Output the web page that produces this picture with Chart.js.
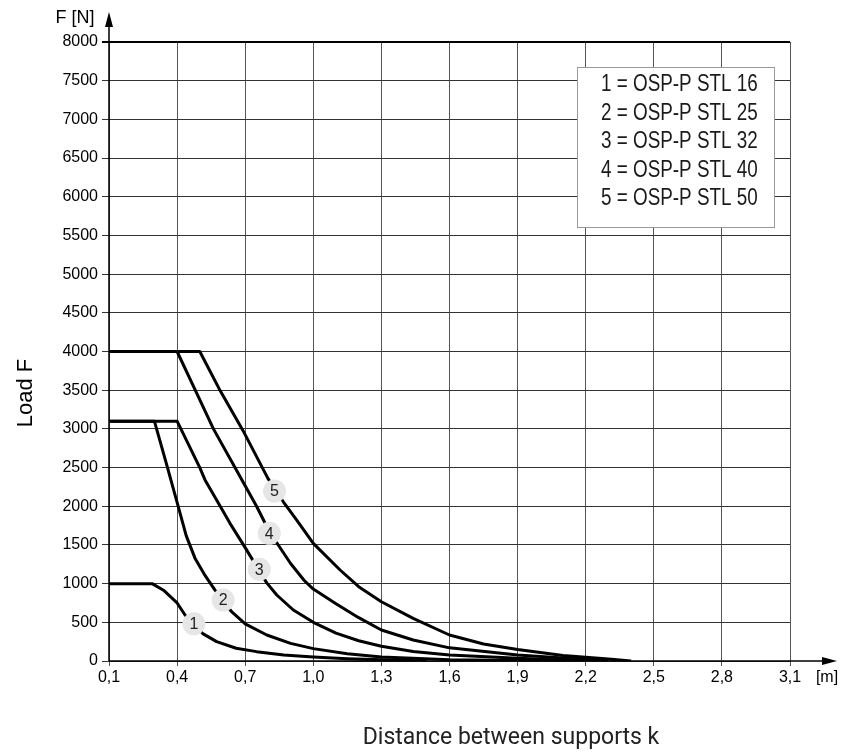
<!DOCTYPE html>
<html>
<head>
<meta charset="utf-8">
<script src="https://cdn.jsdelivr.net/npm/chart.js@4.4.0/dist/chart.umd.min.js"></script>
<style>
  body { margin: 0; background: #fff; }
  #wrap { width: 843px; height: 755px; }
</style>
</head>
<body>
<div id="wrap"><canvas id="chart" width="843" height="755"></canvas></div>
<script>
// tick labels of the distance axis [m]
const xTicks = [0.1, 0.4, 0.7, 1.0, 1.3, 1.6, 1.9, 2.2, 2.5, 2.8, 3.1];

// curve 1 = OSP-P STL 16
const dist1 = [0.1, 0.29, 0.34, 0.4, 0.435, 0.474, 0.515, 0.574, 0.66, 0.75, 0.87, 1.0, 1.15, 1.3, 1.5];
const load1 = [1000, 1000, 915, 750, 594, 478, 350, 250, 165, 121, 78, 52, 30, 15, 0];
// curve 2 = OSP-P STL 25
const dist2 = [0.1, 0.3, 0.35, 0.4, 0.44, 0.48, 0.52, 0.567, 0.6, 0.64, 0.7, 0.795, 0.9, 1.0, 1.15, 1.3, 1.6, 1.9, 2.1];
const load2 = [3100, 3100, 2580, 2050, 1620, 1320, 1120, 917, 790, 637, 480, 336, 228, 160, 95, 52, 17, 5, 0];
// curve 3 = OSP-P STL 32
const dist3 = [0.1, 0.4, 0.5, 0.523, 0.574, 0.633, 0.702, 0.73, 0.795, 0.839, 0.912, 1.0, 1.1, 1.2, 1.3, 1.44, 1.6, 1.9, 2.2];
const load3 = [3100, 3100, 2500, 2340, 2080, 1779, 1455, 1320, 1010, 853, 659, 500, 360, 262, 190, 122, 78, 35, 0];
// curve 4 = OSP-P STL 40
const dist4 = [0.1, 0.4, 0.48, 0.56, 0.655, 0.75, 0.805, 0.85, 0.9, 0.96, 1.0, 1.1, 1.2, 1.3, 1.44, 1.6, 1.9, 2.1, 2.3];
const load4 = [4000, 4000, 3500, 3000, 2500, 2000, 1680, 1480, 1260, 1040, 930, 740, 560, 400, 272, 170, 78, 40, 0];
// curve 5 = OSP-P STL 50
const dist5 = [0.1, 0.5, 0.585, 0.69, 0.8, 0.868, 0.927, 1.0, 1.118, 1.2, 1.3, 1.44, 1.6, 1.75, 1.9, 2.0, 2.1, 2.2, 2.3, 2.4];
const load5 = [4000, 4000, 3520, 2980, 2360, 2058, 1822, 1520, 1176, 960, 766, 551, 336, 220, 150, 110, 72, 50, 25, 0];

// numbered markers on the curves
const markerText = ['1', '2', '3', '4', '5'];
const markerDist = [0.474, 0.603, 0.762, 0.806, 0.829];
const markerLoad = [480, 788, 1185, 1650, 2196];

const legendLabels = [
  '1 = OSP-P STL 16',
  '2 = OSP-P STL 25',
  '3 = OSP-P STL 32',
  '4 = OSP-P STL 40',
  '5 = OSP-P STL 50'
];

const sans = "'Liberation Sans', Arial, sans-serif";

function toPoints(xs, ys) {
  var pts = [];
  for (var i = 0; i < xs.length; i++) {
    pts.push({ x: xs[i], y: ys[i] });
  }
  return pts;
}

function curve(label, xs, ys) {
  return {
    label: label,
    data: toPoints(xs, ys),
    showLine: true,
    borderColor: '#000',
    borderWidth: 3,
    pointRadius: 0,
    tension: 0,
    borderJoinStyle: 'round'
  };
}

// axis arrows, axis titles, markers and the legend box
const decorations = {
  id: 'decorations',
  afterDatasetsDraw(chart) {
    const ctx = chart.ctx;
    const xs = chart.scales.x;
    const ys = chart.scales.y;
    const area = chart.chartArea;

    ctx.save();
    // markers
    for (var i = 0; i < markerText.length; i++) {
      var px = xs.getPixelForValue(markerDist[i]);
      var py = ys.getPixelForValue(markerLoad[i]);
      ctx.beginPath();
      ctx.arc(px, py, 11.5, 0, Math.PI * 2);
      ctx.fillStyle = '#e6e6e6';
      ctx.fill();
      ctx.fillStyle = '#222';
      ctx.font = '16px ' + sans;
      ctx.textAlign = 'center';
      ctx.textBaseline = 'middle';
      ctx.fillText(markerText[i], px, py + 1);
    }

    // axis lines with arrows
    ctx.strokeStyle = '#000';
    ctx.fillStyle = '#000';
    ctx.lineWidth = 1.5;
    ctx.beginPath();
    ctx.moveTo(area.left, area.bottom);
    ctx.lineTo(area.left, 20);
    ctx.moveTo(area.left, area.bottom);
    ctx.lineTo(828, area.bottom);
    ctx.stroke();
    ctx.beginPath();
    ctx.moveTo(area.left, 12);
    ctx.lineTo(area.left - 4, 27);
    ctx.lineTo(area.left + 4, 27);
    ctx.closePath();
    ctx.fill();
    ctx.beginPath();
    ctx.moveTo(837, area.bottom);
    ctx.lineTo(822, area.bottom - 4);
    ctx.lineTo(822, area.bottom + 4);
    ctx.closePath();
    ctx.fill();

    // axis units and titles
    ctx.font = '18px ' + sans;
    ctx.textAlign = 'center';
    ctx.textBaseline = 'middle';
    ctx.fillText('F [N]', 75, 18);
    ctx.font = '16px ' + sans;
    ctx.fillText('[m]', 827, 678);
    ctx.fillStyle = '#222';
    ctx.font = '23px Roboto, sans-serif';
    ctx.fillText('Distance between supports k', 511, 738);
    ctx.fillStyle = '#000';
    ctx.save();
    ctx.translate(26, 393);
    ctx.rotate(-Math.PI / 2);
    ctx.font = '22px ' + sans;
    ctx.fillText('Load F', 0, 0);
    ctx.restore();

    // legend box
    ctx.fillStyle = '#fff';
    ctx.fillRect(577, 67, 198, 161);
    ctx.strokeStyle = '#999';
    ctx.lineWidth = 1;
    ctx.strokeRect(577.5, 67.5, 197, 160);
    ctx.fillStyle = '#1a1a1a';
    ctx.font = '23px ' + sans;
    ctx.textAlign = 'left';
    ctx.textBaseline = 'middle';
    for (var j = 0; j < legendLabels.length; j++) {
      ctx.save();
      ctx.translate(601, 85 + j * 28.5);
      ctx.scale(0.82, 1);
      ctx.fillText(legendLabels[j], 0, 0);
      ctx.restore();
    }
    ctx.restore();
  }
};

const config = {
  type: 'scatter',
  data: {
    datasets: [
      curve('1', dist1, load1),
      curve('2', dist2, load2),
      curve('3', dist3, load3),
      curve('4', dist4, load4),
      curve('5', dist5, load5)
    ]
  },
  options: {
    responsive: false,
    animation: false,
    devicePixelRatio: 1,
    layout: { padding: { top: 42, right: 53, left: 0, bottom: 0 } },
    plugins: {
      legend: { display: false },
      tooltip: { enabled: false }
    },
    scales: {
      x: {
        type: 'linear',
        min: 0.1,
        max: 3.1,
        afterBuildTicks: function(scale) {
          scale.ticks = xTicks.map(function(v) { return { value: v }; });
        },
        afterFit: function(scale) { scale.height = 94; },
        border: { display: false },
        grid: { color: '#555', lineWidth: 1, tickLength: 5 },
        ticks: {
          color: '#000',
          padding: 2,
          maxRotation: 0,
          font: { family: sans, size: 16 },
          callback: function(v) { return v.toFixed(1).replace('.', ','); }
        }
      },
      y: {
        min: 0,
        max: 8000,
        afterFit: function(scale) { scale.width = 109; },
        border: { display: false },
        grid: {
          color: function(c) { return c.tick && c.tick.value === 8000 ? '#000' : '#333'; },
          lineWidth: function(c) { return c.tick && c.tick.value === 8000 ? 2 : 1; },
          tickLength: 7
        },
        ticks: {
          stepSize: 500,
          color: '#000',
          padding: 4,
          font: { family: sans, size: 16 },
          callback: function(v) { return String(v); }
        }
      }
    }
  },
  plugins: [decorations]
};

const myChart = new Chart(document.getElementById('chart'), config);
</script>
</body>
</html>
